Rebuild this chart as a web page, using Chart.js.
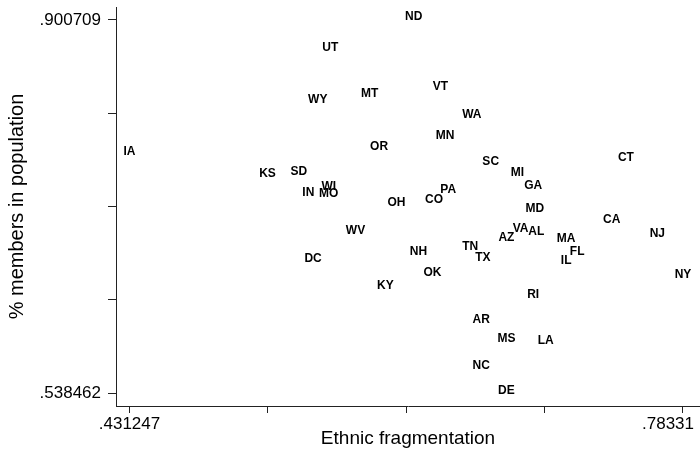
<!DOCTYPE html>
<html>
<head>
<meta charset="utf-8">
<script src="https://cdn.jsdelivr.net/npm/chart.js@4"></script>
<style>
  html, body { margin: 0; padding: 0; background: #fff; }
  canvas { display: block; }
</style>
</head>
<body>
<canvas id="scatterChart" width="700" height="451"></canvas>
<script>
// state abbreviations and their values
const states = ['ND', 'UT', 'VT', 'MT', 'WY', 'WA', 'MN', 'OR', 'IA', 'SC', 'CT',
    'MI', 'KS', 'SD', 'GA', 'PA', 'WI', 'IN', 'MO', 'CO', 'OH', 'MD', 'CA', 'WV',
    'VA', 'AL', 'AZ', 'NJ', 'MA', 'NH', 'TN', 'FL', 'TX', 'DC', 'IL', 'NY', 'OK',
    'KY', 'RI', 'AR', 'MS', 'LA', 'NC', 'DE'];

const fragmentation = [0.612, 0.559, 0.629, 0.584, 0.551, 0.649, 0.632, 0.590, 0.431247, 0.661, 0.747,
    0.678, 0.519, 0.539, 0.688, 0.634, 0.558, 0.545, 0.558, 0.625, 0.601, 0.689, 0.738, 0.575,
    0.680, 0.690, 0.671, 0.767, 0.709, 0.615, 0.648, 0.716, 0.656, 0.548, 0.709, 0.78331, 0.624,
    0.594, 0.688, 0.655, 0.671, 0.696, 0.655, 0.671];

const members = [0.900709, 0.871, 0.833, 0.826, 0.820, 0.806, 0.786, 0.775, 0.770, 0.760, 0.764,
    0.750, 0.749, 0.751, 0.737, 0.733, 0.736, 0.730, 0.729, 0.723, 0.721, 0.715, 0.704, 0.693,
    0.695, 0.692, 0.687, 0.690, 0.686, 0.673, 0.678, 0.673, 0.667, 0.666, 0.664, 0.651, 0.653,
    0.640, 0.631, 0.607, 0.589, 0.587, 0.562, 0.538462];

const xTicks = [0.431247, 0.519263, 0.607279, 0.695294, 0.78331];
const xTickLabels = ['.431247', '', '', '', '.78331'];
const yTicks = [0.538462, 0.629024, 0.719585, 0.810147, 0.900709];
const yTickLabels = ['.538462', '', '', '', '.900709'];

const FONT = "'Liberation Sans', Arial, Helvetica, sans-serif";
Chart.defaults.font.family = FONT;
Chart.defaults.color = '#000';

// state codes written where each point sits
const stateLabels = {
    id: 'stateLabels',
    afterDatasetsDraw(chart) {
        const ctx = chart.ctx;
        const meta = chart.getDatasetMeta(0);
        ctx.save();
        ctx.font = 'bold 12px ' + FONT;
        ctx.fillStyle = '#000';
        ctx.textAlign = 'center';
        ctx.textBaseline = 'middle';
        meta.data.forEach((pt, i) => {
            ctx.fillText(states[i], pt.x, pt.y - 3);
        });
        ctx.restore();
    }
};

// x tick labels, the last one kept inside the canvas
const xTickText = {
    id: 'xTickText',
    afterDraw(chart) {
        const ctx = chart.ctx;
        const sx = chart.scales.x;
        ctx.save();
        ctx.font = '17px ' + FONT;
        ctx.fillStyle = '#000';
        ctx.textBaseline = 'top';
        ctx.textAlign = 'center';
        xTicks.forEach((v, i) => {
            const txt = xTickLabels[i];
            if (!txt) return;
            const w = ctx.measureText(txt).width;
            let x = sx.getPixelForValue(v);
            x = Math.min(x, chart.width - 6 - w / 2);
            ctx.fillText(txt, x, sx.top + 10);
        });
        ctx.restore();
    }
};

new Chart(document.getElementById('scatterChart'), {
    type: 'scatter',
    data: {
        datasets: [{
            data: states.map((s, i) => ({ x: fragmentation[i], y: members[i] })),
            pointRadius: 0,
            pointHoverRadius: 0
        }]
    },
    options: {
        responsive: false,
        animation: false,
        layout: { padding: { top: 7, right: 0, left: 0, bottom: 0 } },
        plugins: {
            legend: { display: false },
            tooltip: { enabled: false }
        },
        scales: {
            x: {
                type: 'linear',
                min: 0.42266,
                max: 0.794125,
                afterBuildTicks(scale) {
                    scale.ticks = xTicks.map(v => ({ value: v }));
                },
                afterFit(scale) {
                    scale.height = 45;
                    scale.paddingLeft = 0;
                    scale.paddingRight = 0;
                },
                ticks: { display: false },
                grid: { drawOnChartArea: false, drawTicks: true, tickLength: 7, color: '#222' },
                border: { display: true, color: '#222', width: 1 },
                title: {
                    display: true,
                    text: 'Ethnic fragmentation',
                    font: { size: 19 },
                    padding: { top: 0, bottom: 1 }
                }
            },
            y: {
                type: 'linear',
                min: 0.526138,
                max: 0.913324,
                afterBuildTicks(scale) {
                    scale.ticks = yTicks.map(v => ({ value: v }));
                },
                afterFit(scale) {
                    scale.width = 116;
                    scale.paddingTop = 0;
                    scale.paddingBottom = 0;
                },
                ticks: {
                    font: { size: 17 },
                    padding: 7,
                    callback: (v, i) => yTickLabels[i]
                },
                grid: { drawOnChartArea: false, drawTicks: true, tickLength: 8, color: '#222' },
                border: { display: true, color: '#222', width: 1 },
                title: {
                    display: true,
                    text: '% members in population',
                    font: { size: 20 },
                    padding: { top: 5, bottom: 0 }
                }
            }
        }
    },
    plugins: [stateLabels, xTickText]
});
</script>
</body>
</html>
